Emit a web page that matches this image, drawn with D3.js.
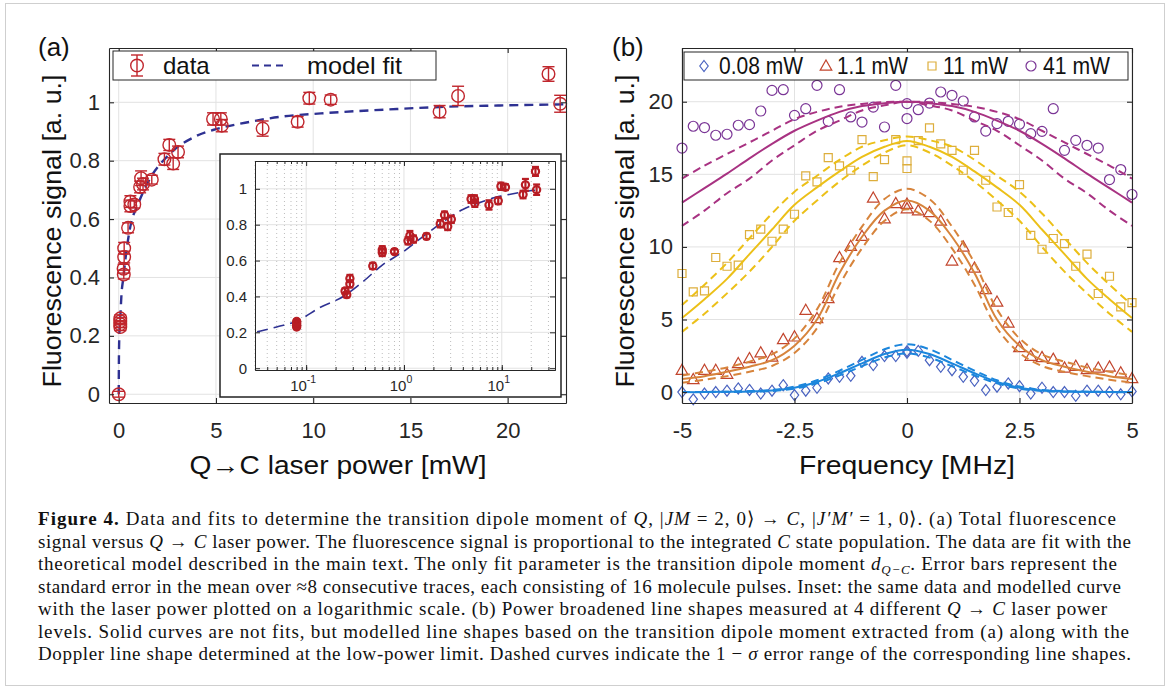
<!DOCTYPE html>
<html><head><meta charset="utf-8">
<script src="https://cdn.jsdelivr.net/npm/d3@7"></script>
<style>body{margin:0;background:#fff}svg{display:block}</style>
</head><body><svg id="c" width="1171" height="697"></svg>
<script>
// ---------- Panel (a) data ----------
const powerX   = [0, 0.08, 0.08, 0.08, 0.08, 0.25, 0.26, 0.28, 0.28, 0.48, 0.6, 0.6, 0.8, 1.1, 1.15, 1.25, 1.7, 2.35, 2.6, 2.8, 3.05, 4.85, 5.25, 5.3, 7.4, 9.2, 9.8, 10.9, 16.5, 17.45, 22.1, 22.7];
const powerY   = [0.0, 0.23, 0.24, 0.25, 0.26, 0.43, 0.41, 0.50, 0.47, 0.57, 0.66, 0.645, 0.65, 0.71, 0.74, 0.72, 0.735, 0.805, 0.854, 0.79, 0.83, 0.943, 0.943, 0.92, 0.91, 0.933, 1.014, 1.009, 0.968, 1.022, 1.097, 0.995];
const powerErr = [0.01, 0.012, 0.012, 0.012, 0.012, 0.015, 0.015, 0.02, 0.02, 0.017, 0.02, 0.02, 0.012, 0.02, 0.025, 0.02, 0.015, 0.02, 0.019, 0.02, 0.02, 0.021, 0.021, 0.021, 0.026, 0.018, 0.02, 0.016, 0.021, 0.033, 0.025, 0.029];
const fitX = [0, 0.01, 0.03, 0.05, 0.08, 0.14, 0.24, 0.38, 0.6, 1.0, 1.6, 2.5, 4.0, 5.0, 6.5, 8.5, 10.4, 14.3, 16.5, 19.5, 23];
const fitY = [0.0, 0.12, 0.2, 0.23, 0.262, 0.34, 0.40, 0.482, 0.575, 0.652, 0.738, 0.815, 0.885, 0.908, 0.93, 0.952, 0.962, 0.977, 0.984, 0.989, 0.993];
const aXTicks = [0, 5, 10, 15, 20];
const aXLabels = ["0", "5", "10", "15", "20"];
const aYTicks = [0, 0.2, 0.4, 0.6, 0.8, 1];
const aYLabels = ["0", "0.2", "0.4", "0.6", "0.8", "1"];
const insetXTicks = [0.1, 1, 10];
const insetXExp = ["-1", "0", "1"];
const insetYTicks = [0, 0.2, 0.4, 0.6, 0.8, 1];
const insetYLabels = ["0", "0.2", "0.4", "0.6", "0.8", "1"];

// ---------- Panel (b) data ----------
const freq = [-5, -4.75, -4.5, -4.25, -4, -3.75, -3.5, -3.25, -3, -2.75, -2.5, -2.25, -2, -1.75, -1.5, -1.25, -1, -0.75, -0.5, -0.25, 0, 0, 0.25, 0.5, 0.75, 1, 1.25, 1.5, 1.75, 2, 2.25, 2.5, 2.75, 3, 3.25, 3.5, 3.75, 4, 4.25, 4.5, 4.75, 5];
const sig008 = [0.0, -0.5, -0.1, 0.0, 0.1, 0.25, 0.15, -0.1, 0.1, 0.48, -0.2, 0.1, 0.3, 0.94, 1.05, 1.12, 2.09, 1.86, 2.48, 2.48, 2.82, 2.71, 2.84, 2.2, 1.74, 1.51, 1.05, 0.78, 0.14, 0.37, 0.6, 0.41, -0.1, 0.3, 0.0, 0.0, -0.25, 0.1, 0.1, 0.0, -0.15, 0.05];
const sig1p1 = [1.51, 0.87, 1.51, 1.51, 1.24, 1.97, 2.32, 2.71, 2.43, 3.63, 3.81, 5.64, 5.07, 6.45, 9.27, 10.05, 10.74, 13.37, 11.95, 13.0, 12.95, 12.64, 12.5, 12.37, 11.79, 9.04, 10.0, 8.55, 7.07, 6.21, 4.77, 3.08, 2.48, 2.39, 2.27, 1.67, 1.79, 1.56, 1.67, 1.74, 1.33, 0.94];
const sig11 = [8.17, 6.9, 6.97, 9.27, 8.67, 8.74, 10.85, 11.22, 10.39, 11.22, 12.25, 14.89, 14.48, 16.15, 15.58, 15.28, 17.39, 14.84, 16.01, 17.39, 15.92, 15.4, 17.32, 18.2, 17.1, 16.65, 15.28, 16.65, 14.59, 12.75, 12.37, 14.29, 10.8, 9.84, 10.58, 10.23, 8.67, 9.5, 6.79, 7.98, 5.87, 6.17];
const sig41 = [16.81, 18.31, 18.22, 17.69, 17.76, 18.38, 18.42, 19.36, 20.78, 20.83, 19.06, 19.52, 21.13, 18.65, 20.83, 18.95, 18.6, 19.63, 18.26, 21.13, 19.87, 18.84, 19.45, 19.91, 20.67, 20.44, 20.05, 18.95, 17.98, 18.49, 18.65, 18.45, 17.8, 17.96, 19.52, 16.65, 17.34, 17.0, 16.81, 14.64, 15.33, 13.61];
const modelF = [-5, -4.5, -4, -3.5, -3, -2.5, -2, -1.5, -1, -0.5, 0, 0.5, 1, 1.5, 2, 2.5, 3, 3.5, 4, 4.5, 5];
const m008   = [0.0, 0.0, 0.02, 0.05, 0.11, 0.3, 0.7, 1.3, 1.98, 2.62, 2.92, 2.62, 1.98, 1.3, 0.7, 0.3, 0.11, 0.05, 0.02, 0.0, 0.0];
const m008hi = [0.0, 0.01, 0.03, 0.07, 0.15, 0.38, 0.82, 1.48, 2.22, 2.95, 3.3, 2.95, 2.22, 1.48, 0.82, 0.38, 0.15, 0.07, 0.03, 0.01, 0.0];
const m008lo = [0.0, 0.0, 0.01, 0.03, 0.08, 0.24, 0.6, 1.15, 1.78, 2.38, 2.66, 2.38, 1.78, 1.15, 0.6, 0.24, 0.08, 0.03, 0.01, 0.0, 0.0];
const m1p1   = [0.9, 1.1, 1.4, 1.75, 2.2, 3.2, 5.0, 8.2, 10.7, 12.5, 13.2, 12.5, 10.7, 8.2, 5.0, 3.2, 2.2, 1.75, 1.4, 1.1, 0.9];
const m1p1hi = [1.15, 1.4, 1.7, 2.1, 2.6, 3.7, 5.7, 8.9, 11.4, 13.3, 14.0, 13.3, 11.4, 8.9, 5.7, 3.7, 2.6, 2.1, 1.7, 1.4, 1.15];
const m1p1lo = [0.65, 0.85, 1.1, 1.4, 1.8, 2.7, 4.4, 7.4, 9.9, 11.8, 12.6, 11.8, 9.9, 7.4, 4.4, 2.7, 1.8, 1.4, 1.1, 0.85, 0.65];
const m11    = [5.1, 6.4, 7.8, 9.5, 11.2, 12.9, 14.1, 15.2, 16.2, 16.9, 17.3, 16.9, 16.2, 15.2, 14.1, 12.9, 11.2, 9.5, 7.8, 6.4, 5.1];
const m11hi  = [6.0, 7.4, 8.9, 10.6, 12.3, 13.8, 14.9, 16.0, 16.9, 17.35, 17.6, 17.35, 16.9, 16.0, 14.9, 13.8, 12.3, 10.6, 8.9, 7.4, 6.0];
const m11lo  = [4.15, 5.4, 6.8, 8.3, 10.0, 11.8, 13.2, 14.5, 15.6, 16.5, 17.0, 16.5, 15.6, 14.5, 13.2, 11.8, 10.0, 8.3, 6.8, 5.4, 4.15];
const m41    = [13.05, 14.05, 15.05, 16.1, 17.1, 18.0, 18.7, 19.3, 19.7, 19.9, 20.0, 19.9, 19.7, 19.3, 18.7, 18.0, 17.1, 16.1, 15.05, 14.05, 13.05];
const m41hi  = [14.7, 15.6, 16.4, 17.2, 18.0, 18.8, 19.3, 19.65, 19.85, 19.97, 20.0, 19.97, 19.85, 19.65, 19.3, 18.8, 18.0, 17.2, 16.4, 15.6, 14.7];
const m41lo  = [11.45, 12.5, 13.7, 14.7, 15.95, 17.0, 18.0, 18.7, 19.4, 19.75, 20.0, 19.75, 19.4, 18.7, 18.0, 17.0, 15.95, 14.7, 13.7, 12.5, 11.45];
const seriesNames = ["0.08 mW", "1.1 mW", "11 mW", "41 mW"];
const bXTicks = [-5, -2.5, 0, 2.5, 5];
const bXLabels = ["-5", "-2.5", "0", "2.5", "5"];
const bYTicks = [0, 5, 10, 15, 20];
const bYLabels = ["0", "5", "10", "15", "20"];

// ---------- drawing ----------
const svg = d3.select("#c");
const SANS = "'Liberation Sans', Arial, sans-serif";
const SERIF = "'Liberation Serif', 'Times New Roman', serif";
const AX = "#262626", GRID = "#e2e2e2";
const RED = "#c0262d", NAVY = "#2e3192";

// outer frame
svg.append("rect").attr("x", 5.5).attr("y", 3.5).attr("width", 1159).attr("height", 682)
  .attr("fill", "none").attr("stroke", "#cfcfcf").attr("stroke-width", 1);

function frame(g, x, y, xt, yt) {
  const [x0, x1] = x.range(), [y1, y0] = y.range();
  g.append("g").selectAll("line").data(xt).join("line")
    .attr("x1", d => x(d)).attr("x2", d => x(d)).attr("y1", y0).attr("y2", y1)
    .attr("stroke", GRID).attr("stroke-width", 1);
  g.append("g").selectAll("line").data(yt).join("line")
    .attr("y1", d => y(d)).attr("y2", d => y(d)).attr("x1", x0).attr("x2", x1)
    .attr("stroke", GRID).attr("stroke-width", 1);
}
function axes(g, x, y, xt, xl, yt, yl, fs, padX, padY) {
  const [x0, x1] = x.range(), [y1, y0] = y.range();
  const style = s => { s.selectAll("path,line").attr("stroke", AX).attr("stroke-width", 1.1);
    s.selectAll("text").attr("fill", AX).attr("font-family", SANS).attr("font-size", fs); };
  g.append("g").attr("transform", `translate(0,${y1})`)
    .call(d3.axisBottom(x).tickValues(xt).tickFormat((d, i) => xl[i]).tickSize(-5).tickSizeOuter(0).tickPadding(padX)).call(style);
  g.append("g").attr("transform", `translate(0,${y0})`)
    .call(d3.axisTop(x).tickValues(xt).tickFormat("").tickSize(-5).tickSizeOuter(0)).call(style);
  g.append("g").attr("transform", `translate(${x0},0)`)
    .call(d3.axisLeft(y).tickValues(yt).tickFormat((d, i) => yl[i]).tickSize(-5).tickSizeOuter(0).tickPadding(padY)).call(style);
  g.append("g").attr("transform", `translate(${x1},0)`)
    .call(d3.axisRight(y).tickValues(yt).tickFormat("").tickSize(-5).tickSizeOuter(0)).call(style);
}

// ===== Panel (a) =====
const xA = d3.scaleLinear().domain([-0.5, 23]).range([109, 566]);
const yA = d3.scaleLinear().domain([-0.03, 1.186]).range([403, 48]);
const gA = svg.append("g");
frame(gA, xA, yA, aXTicks, aYTicks);
const fitPts = fitX.map((d, i) => [d, fitY[i]]);
gA.append("path").datum(fitPts)
  .attr("d", d3.line().x(d => xA(d[0])).y(d => yA(d[1])).curve(d3.curveMonotoneX))
  .attr("fill", "none").attr("stroke", NAVY).attr("stroke-width", 2.4).attr("stroke-dasharray", "9,6");
const pts = powerX.map((d, i) => ({x: d, y: powerY[i], e: powerErr[i]}));
const eb = gA.append("g").attr("stroke", RED).attr("fill", "none").attr("stroke-width", 1.4);
eb.selectAll("g").data(pts).join("g").each(function (d) {
  const s = d3.select(this), cx = xA(d.x);
  s.append("line").attr("x1", cx).attr("x2", cx).attr("y1", yA(d.y - d.e)).attr("y2", yA(d.y + d.e));
  s.append("line").attr("x1", cx - 6).attr("x2", cx + 6).attr("y1", yA(d.y - d.e)).attr("y2", yA(d.y - d.e));
  s.append("line").attr("x1", cx - 6).attr("x2", cx + 6).attr("y1", yA(d.y + d.e)).attr("y2", yA(d.y + d.e));
  s.append("circle").attr("cx", cx).attr("cy", yA(d.y)).attr("r", 6.3);
});
axes(gA, xA, yA, aXTicks, aXLabels, aYTicks, aYLabels, 22, 19, 9);

// legend (a)
const lgA = svg.append("g");
lgA.append("rect").attr("x", 113).attr("y", 51).attr("width", 323).attr("height", 29)
  .attr("fill", "#fff").attr("stroke", AX).attr("stroke-width", 1);
lgA.append("line").attr("x1", 137).attr("x2", 137).attr("y1", 55).attr("y2", 76).attr("stroke", RED).attr("stroke-width", 1.4);
lgA.append("line").attr("x1", 131).attr("x2", 143).attr("y1", 55).attr("y2", 55).attr("stroke", RED).attr("stroke-width", 1.4);
lgA.append("line").attr("x1", 131).attr("x2", 143).attr("y1", 76).attr("y2", 76).attr("stroke", RED).attr("stroke-width", 1.4);
lgA.append("circle").attr("cx", 137).attr("cy", 65.5).attr("r", 6.3).attr("fill", "none").attr("stroke", RED).attr("stroke-width", 1.4);
lgA.append("text").attr("x", 163).attr("y", 74).text("data").attr("font-family", SANS).attr("font-size", 24).attr("fill", "#111");
lgA.append("line").attr("x1", 252).attr("x2", 287).attr("y1", 65.5).attr("y2", 65.5).attr("stroke", NAVY).attr("stroke-width", 2).attr("stroke-dasharray", "7,5");
lgA.append("text").attr("x", 307).attr("y", 74).text("model fit").attr("font-family", SANS).attr("font-size", 24).attr("fill", "#111")
  .attr("textLength", 95).attr("lengthAdjust", "spacingAndGlyphs");

// inset
const gI = svg.append("g");
gI.append("rect").attr("x", 220).attr("y", 154).attr("width", 341).attr("height", 243)
  .attr("fill", "#fff").attr("stroke", "#222").attr("stroke-width", 1.5);
const xI = d3.scaleLog().domain([0.03, 35]).range([255, 555]);
const yI = d3.scaleLinear().domain([-0.01, 1.155]).range([370, 161]);
const minorX = xI.ticks().filter(t => insetXTicks.indexOf(t) < 0);
gI.append("g").selectAll("line").data(minorX).join("line")
  .attr("x1", d => xI(d)).attr("x2", d => xI(d)).attr("y1", 161).attr("y2", 370)
  .attr("stroke", "#bdbdbd").attr("stroke-width", 1).attr("stroke-dasharray", "1,3");
frame(gI, xI, yI, insetXTicks, insetYTicks);
gI.append("clipPath").attr("id", "clipI").append("rect").attr("x", 255).attr("y", 161).attr("width", 300).attr("height", 209);
gI.append("path").datum(fitPts.filter(d => d[0] > 0)).attr("clip-path", "url(#clipI)")
  .attr("d", d3.line().x(d => xI(d[0])).y(d => yI(d[1])).curve(d3.curveMonotoneX))
  .attr("fill", "none").attr("stroke", NAVY).attr("stroke-width", 1.6).attr("stroke-dasharray", "11,6");
const ebI = gI.append("g").attr("stroke", "#b81d24").attr("fill", "none").attr("stroke-width", 2.2);
ebI.selectAll("g").data(pts.filter(d => d.x > 0)).join("g").each(function (d) {
  const s = d3.select(this), cx = xI(d.x);
  s.append("line").attr("x1", cx).attr("x2", cx).attr("y1", yI(d.y - d.e)).attr("y2", yI(d.y + d.e));
  s.append("line").attr("x1", cx - 3.5).attr("x2", cx + 3.5).attr("y1", yI(d.y - d.e)).attr("y2", yI(d.y - d.e));
  s.append("line").attr("x1", cx - 3.5).attr("x2", cx + 3.5).attr("y1", yI(d.y + d.e)).attr("y2", yI(d.y + d.e));
  s.append("circle").attr("cx", cx).attr("cy", yI(d.y)).attr("r", 3.6);
});
{
  const style = s => { s.selectAll("path,line").attr("stroke", AX).attr("stroke-width", 1);
    s.selectAll("text").attr("fill", AX).attr("font-family", SANS).attr("font-size", 15); };
  gI.append("g").attr("transform", "translate(0,370)")
    .call(d3.axisBottom(xI).tickValues(minorX.concat(insetXTicks)).tickFormat("").tickSize(-3).tickSizeOuter(0)).call(style);
  gI.append("g").attr("transform", "translate(0,370)")
    .call(d3.axisBottom(xI).tickValues(insetXTicks).tickFormat("").tickSize(-5).tickSizeOuter(0)).call(style);
  gI.append("g").attr("transform", "translate(0,161)")
    .call(d3.axisTop(xI).tickValues(insetXTicks).tickFormat("").tickSize(-5).tickSizeOuter(0)).call(style);
  gI.append("g").attr("transform", "translate(0,161)")
    .call(d3.axisTop(xI).tickValues(minorX).tickFormat("").tickSize(-3).tickSizeOuter(0)).call(style);
  gI.append("g").attr("transform", "translate(255,0)")
    .call(d3.axisLeft(yI).tickValues(insetYTicks).tickFormat((d, i) => insetYLabels[i]).tickSize(-5).tickSizeOuter(0).tickPadding(8)).call(style);
  gI.append("g").attr("transform", "translate(555,0)")
    .call(d3.axisRight(yI).tickValues(insetYTicks).tickFormat("").tickSize(-5).tickSizeOuter(0)).call(style);
  const lab = gI.append("g").attr("font-family", SANS).attr("fill", AX);
  insetXTicks.forEach((t, i) => {
    const tx = lab.append("text").attr("x", xI(t) - 3).attr("y", 391).attr("text-anchor", "middle").attr("font-size", 15);
    tx.append("tspan").text("10");
    tx.append("tspan").attr("dy", -8).attr("font-size", 10.5).text(insetXExp[i]);
  });
}

// ===== Panel (b) =====
const xB = d3.scaleLinear().domain([-5, 5]).range([682, 1132]);
const yB = d3.scaleLinear().domain([-0.75, 23.7]).range([403, 48]);
const gB = svg.append("g");
frame(gB, xB, yB, bXTicks, bYTicks);
const lineB = d3.line().x((d, i) => xB(modelF[i])).y(d => yB(d)).curve(d3.curveCatmullRom.alpha(0.5));
const series = [
  {v: sig008, m: m008, hi: m008hi, lo: m008lo, mc: "#4a63c0", lc: "#1c86dc", shape: "diamond"},
  {v: sig1p1, m: m1p1, hi: m1p1hi, lo: m1p1lo, mc: "#c2452d", lc: "#d7843c", shape: "triangle"},
  {v: sig11,  m: m11,  hi: m11hi,  lo: m11lo,  mc: "#ddae3c", lc: "#ecc018", shape: "square"},
  {v: sig41,  m: m41,  hi: m41hi,  lo: m41lo,  mc: "#7a3596", lc: "#a83282", shape: "circle"}
];
function marker(sel, shape) {
  if (shape === "diamond") return sel.append("path").attr("d", "M0,-5.5L4.2,0L0,5.5L-4.2,0Z");
  if (shape === "triangle") return sel.append("path").attr("d", "M0,-6L5.8,4.2L-5.8,4.2Z");
  if (shape === "square") return sel.append("path").attr("d", "M-4,-4H4V4H-4Z");
  return sel.append("circle").attr("r", 5);
}
series.forEach(s => {
  const g = gB.append("g");
  s.v.forEach((v, i) => {
    const m = g.append("g").attr("transform", `translate(${xB(freq[i])},${yB(v)})`);
    marker(m, s.shape).attr("fill", "none").attr("stroke", s.mc).attr("stroke-width", 1.2);
  });
});
series.forEach(s => {
  gB.append("path").attr("d", lineB(s.hi)).attr("fill", "none").attr("stroke", s.lc).attr("stroke-width", 2).attr("stroke-dasharray", "8,5");
  gB.append("path").attr("d", lineB(s.lo)).attr("fill", "none").attr("stroke", s.lc).attr("stroke-width", 2).attr("stroke-dasharray", "8,5");
  gB.append("path").attr("d", lineB(s.m)).attr("fill", "none").attr("stroke", s.lc).attr("stroke-width", 2);
});
axes(gB, xB, yB, bXTicks, bXLabels, bYTicks, bYLabels, 22, 19, 9);

// legend (b)
const lgB = svg.append("g");
lgB.append("rect").attr("x", 684).attr("y", 52).attr("width", 444).attr("height", 28)
  .attr("fill", "#fff").attr("stroke", AX).attr("stroke-width", 1);
const lgPos = [[704, 719, 84], [826, 837, 71], [932, 943, 65], [1031, 1043, 67]];
series.forEach((s, i) => {
  const m = lgB.append("g").attr("transform", `translate(${lgPos[i][0]},66)`);
  marker(m, s.shape).attr("fill", "none").attr("stroke", s.mc).attr("stroke-width", 1.2);
  lgB.append("text").attr("x", lgPos[i][1]).attr("y", 74).text(seriesNames[i])
    .attr("font-family", SANS).attr("font-size", 23).attr("fill", "#111")
    .attr("textLength", lgPos[i][2]).attr("lengthAdjust", "spacingAndGlyphs");
});

// panel labels & axis titles
const T = svg.append("g").attr("font-family", SANS).attr("fill", "#111");
T.append("text").attr("x", 38).attr("y", 56).attr("font-size", 26).text("(a)");
T.append("text").attr("x", 612).attr("y", 56).attr("font-size", 26).text("(b)");
T.append("text").attr("x", 338).attr("y", 474).attr("text-anchor", "middle").attr("font-size", 25)
  .attr("textLength", 297).attr("lengthAdjust", "spacingAndGlyphs").text("Q\u2192C laser power [mW]");
T.append("text").attr("x", 907).attr("y", 474).attr("text-anchor", "middle").attr("font-size", 25)
  .attr("textLength", 216).attr("lengthAdjust", "spacingAndGlyphs").text("Frequency [MHz]");
T.append("text").attr("transform", "translate(61,231) rotate(-90)").attr("text-anchor", "middle").attr("font-size", 25)
  .attr("textLength", 313).attr("lengthAdjust", "spacingAndGlyphs").text("Fluorescence signal [a. u.]");
T.append("text").attr("transform", "translate(634,231) rotate(-90)").attr("text-anchor", "middle").attr("font-size", 25)
  .attr("textLength", 313).attr("lengthAdjust", "spacingAndGlyphs").text("Fluorescence signal [a. u.]");

// caption
const capLines = [
  [["Figure\u00a04.", "b"], [" Data and fits to determine the transition dipole moment of ", ""], ["Q", "i"], [", |", ""], ["JM", "i"], [" = 2, 0\u27e9 \u2192 ", ""], ["C", "i"], [", |", ""], ["J\u2032M\u2032", "i"], [" = 1, 0\u27e9. (a) Total fluorescence", ""]],
  [["signal versus ", ""], ["Q", "i"], [" \u2192 ", ""], ["C", "i"], [" laser power. The fluorescence signal is proportional to the integrated ", ""], ["C", "i"], [" state population. The data are fit with the", ""]],
  [["theoretical model described in the main text. The only fit parameter is the transition dipole moment ", ""], ["d", "i"], ["Q\u2212C", "sub"], [". Error bars represent the", ""]],
  [["standard error in the mean over \u22488 consecutive traces, each consisting of 16 molecule pulses. Inset: the same data and modelled curve", ""]],
  [["with the laser power plotted on a logarithmic scale. (b) Power broadened line shapes measured at 4 different ", ""], ["Q", "i"], [" \u2192 ", ""], ["C", "i"], [" laser power", ""]],
  [["levels. Solid curves are not fits, but modelled line shapes based on the transition dipole moment extracted from (a) along with the", ""]],
  [["Doppler line shape determined at the low-power limit. Dashed curves indicate the 1 \u2212 ", ""], ["\u03c3", "i"], [" error range of the corresponding line shapes.", ""]]
];
const capWidths = [1078, 1093, 1079, 1083, 1069, 1091, 1093];
const C = svg.append("g").attr("font-family", SERIF).attr("font-size", 19).attr("fill", "#111");
capLines.forEach((segs, li) => {
  const t = C.append("text").attr("x", 38).attr("y", 525 + li * 22.5)
    .attr("textLength", capWidths[li]).attr("lengthAdjust", "spacing");
  let shifted = false;
  segs.forEach(([txt, st]) => {
    const sp = t.append("tspan").text(txt);
    if (st === "b") sp.attr("font-weight", "bold");
    if (st === "i") sp.attr("font-style", "italic");
    if (st === "sub") { sp.attr("font-style", "italic").attr("font-size", 13).attr("dy", 4); shifted = true; }
    else if (shifted) { sp.attr("dy", -4); shifted = false; }
  });
});
</script></body></html>
